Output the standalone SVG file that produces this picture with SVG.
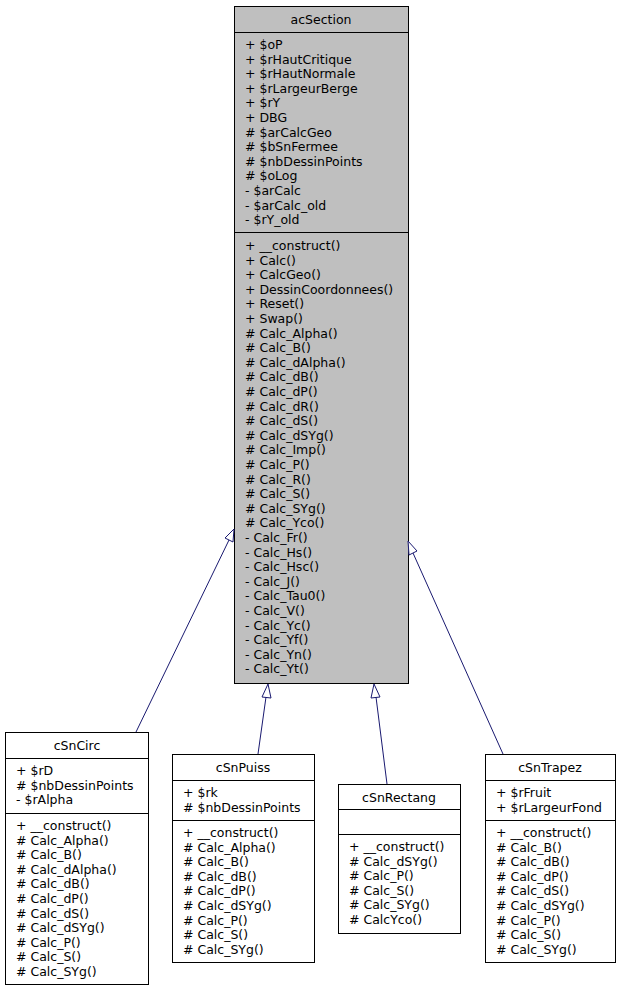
<svg xmlns="http://www.w3.org/2000/svg" width="621" height="991" viewBox="0 0 621 991">
<style>
text{font-family:"DejaVu Sans",sans-serif;font-size:12.5px;fill:#000}
.t{text-anchor:middle}
.b{fill:#fff;stroke:#000;stroke-width:1}
.g{fill:#bfbfbf;stroke:#000;stroke-width:1}
.e{stroke:#191970;stroke-width:1;fill:none}
.h{fill:#fff;stroke:#191970;stroke-width:1}
</style>
<rect width="621" height="991" fill="#fff"/>
<g id="acSection">
<rect class="g" x="234.5" y="6.5" width="174" height="677"/>
<line x1="234.5" y1="32.5" x2="408.5" y2="32.5" stroke="#000"/>
<line x1="234.5" y1="232.5" x2="408.5" y2="232.5" stroke="#000"/>
<text class="t" x="321" y="24">acSection</text>
<text x="245" y="49">+ $oP</text>
<text x="245" y="63.6">+ $rHautCritique</text>
<text x="245" y="78.2">+ $rHautNormale</text>
<text x="245" y="92.8">+ $rLargeurBerge</text>
<text x="245" y="107.4">+ $rY</text>
<text x="245" y="122">+ DBG</text>
<text x="245" y="136.6"># $arCalcGeo</text>
<text x="245" y="151.2"># $bSnFermee</text>
<text x="245" y="165.8"># $nbDessinPoints</text>
<text x="245" y="180.4"># $oLog</text>
<text x="245" y="195">- $arCalc</text>
<text x="245" y="209.6">- $arCalc_old</text>
<text x="245" y="224.2">- $rY_old</text>
<text x="245" y="250">+ __construct()</text>
<text x="245" y="264.6">+ Calc()</text>
<text x="245" y="279.2">+ CalcGeo()</text>
<text x="245" y="293.8">+ DessinCoordonnees()</text>
<text x="245" y="308.4">+ Reset()</text>
<text x="245" y="323">+ Swap()</text>
<text x="245" y="337.6"># Calc_Alpha()</text>
<text x="245" y="352.2"># Calc_B()</text>
<text x="245" y="366.8"># Calc_dAlpha()</text>
<text x="245" y="381.4"># Calc_dB()</text>
<text x="245" y="396"># Calc_dP()</text>
<text x="245" y="410.6"># Calc_dR()</text>
<text x="245" y="425.2"># Calc_dS()</text>
<text x="245" y="439.8"># Calc_dSYg()</text>
<text x="245" y="454.4"># Calc_Imp()</text>
<text x="245" y="469"># Calc_P()</text>
<text x="245" y="483.6"># Calc_R()</text>
<text x="245" y="498.2"># Calc_S()</text>
<text x="245" y="512.8"># Calc_SYg()</text>
<text x="245" y="527.4"># Calc_Yco()</text>
<text x="245" y="542">- Calc_Fr()</text>
<text x="245" y="556.6">- Calc_Hs()</text>
<text x="245" y="571.2">- Calc_Hsc()</text>
<text x="245" y="585.8">- Calc_J()</text>
<text x="245" y="600.4">- Calc_Tau0()</text>
<text x="245" y="615">- Calc_V()</text>
<text x="245" y="629.6">- Calc_Yc()</text>
<text x="245" y="644.2">- Calc_Yf()</text>
<text x="245" y="658.8">- Calc_Yn()</text>
<text x="245" y="673.4">- Calc_Yt()</text>
</g>
<g id="cSnCirc">
<rect class="b" x="5.5" y="732.5" width="143" height="252"/>
<line x1="5.5" y1="758.5" x2="148.5" y2="758.5" stroke="#000"/>
<line x1="5.5" y1="813.5" x2="148.5" y2="813.5" stroke="#000"/>
<text class="t" x="77" y="750">cSnCirc</text>
<text x="16" y="775">+ $rD</text>
<text x="16" y="789.6"># $nbDessinPoints</text>
<text x="16" y="804.2">- $rAlpha</text>
<text x="16" y="830">+ __construct()</text>
<text x="16" y="844.6"># Calc_Alpha()</text>
<text x="16" y="859.2"># Calc_B()</text>
<text x="16" y="873.8"># Calc_dAlpha()</text>
<text x="16" y="888.4"># Calc_dB()</text>
<text x="16" y="903"># Calc_dP()</text>
<text x="16" y="917.6"># Calc_dS()</text>
<text x="16" y="932.2"># Calc_dSYg()</text>
<text x="16" y="946.8"># Calc_P()</text>
<text x="16" y="961.4"># Calc_S()</text>
<text x="16" y="976"># Calc_SYg()</text>
</g>
<g id="cSnPuiss">
<rect class="b" x="172.5" y="754.5" width="142" height="208"/>
<line x1="172.5" y1="780.5" x2="314.5" y2="780.5" stroke="#000"/>
<line x1="172.5" y1="820.5" x2="314.5" y2="820.5" stroke="#000"/>
<text class="t" x="243" y="772">cSnPuiss</text>
<text x="183" y="797">+ $rk</text>
<text x="183" y="811.6"># $nbDessinPoints</text>
<text x="183" y="837">+ __construct()</text>
<text x="183" y="851.6"># Calc_Alpha()</text>
<text x="183" y="866.2"># Calc_B()</text>
<text x="183" y="880.8"># Calc_dB()</text>
<text x="183" y="895.4"># Calc_dP()</text>
<text x="183" y="910"># Calc_dSYg()</text>
<text x="183" y="924.6"># Calc_P()</text>
<text x="183" y="939.2"># Calc_S()</text>
<text x="183" y="953.8"># Calc_SYg()</text>
</g>
<g id="cSnRectang">
<rect class="b" x="338.5" y="784.5" width="122" height="149"/>
<line x1="338.5" y1="809.5" x2="460.5" y2="809.5" stroke="#000"/>
<line x1="338.5" y1="834.5" x2="460.5" y2="834.5" stroke="#000"/>
<text class="t" x="399" y="802">cSnRectang</text>
<text x="349" y="851">+ __construct()</text>
<text x="349" y="865.6"># Calc_dSYg()</text>
<text x="349" y="880.2"># Calc_P()</text>
<text x="349" y="894.8"># Calc_S()</text>
<text x="349" y="909.4"># Calc_SYg()</text>
<text x="349" y="924"># CalcYco()</text>
</g>
<g id="cSnTrapez">
<rect class="b" x="485.5" y="754.5" width="130" height="208"/>
<line x1="485.5" y1="780.5" x2="615.5" y2="780.5" stroke="#000"/>
<line x1="485.5" y1="820.5" x2="615.5" y2="820.5" stroke="#000"/>
<text class="t" x="550" y="772">cSnTrapez</text>
<text x="496" y="797">+ $rFruit</text>
<text x="496" y="811.6">+ $rLargeurFond</text>
<text x="496" y="837">+ __construct()</text>
<text x="496" y="851.6"># Calc_B()</text>
<text x="496" y="866.2"># Calc_dB()</text>
<text x="496" y="880.8"># Calc_dP()</text>
<text x="496" y="895.4"># Calc_dS()</text>
<text x="496" y="910"># Calc_dSYg()</text>
<text x="496" y="924.6"># Calc_P()</text>
<text x="496" y="939.2"># Calc_S()</text>
<text x="496" y="953.8"># Calc_SYg()</text>
</g>
<g id="connectors">
<path class="e" d="M136,732 L229,540"/>
<polygon class="h" points="234,529 225,538 233,542"/>
<path class="e" d="M258,754 L266,697"/>
<polygon class="h" points="268,684 262,697 271,698"/>
<path class="e" d="M387,784 L376,697"/>
<polygon class="h" points="374,684 371,698 380,697"/>
<path class="e" d="M503,754 L413,553"/>
<polygon class="h" points="408,541 409,555 417,551"/>
</g>
</svg>
